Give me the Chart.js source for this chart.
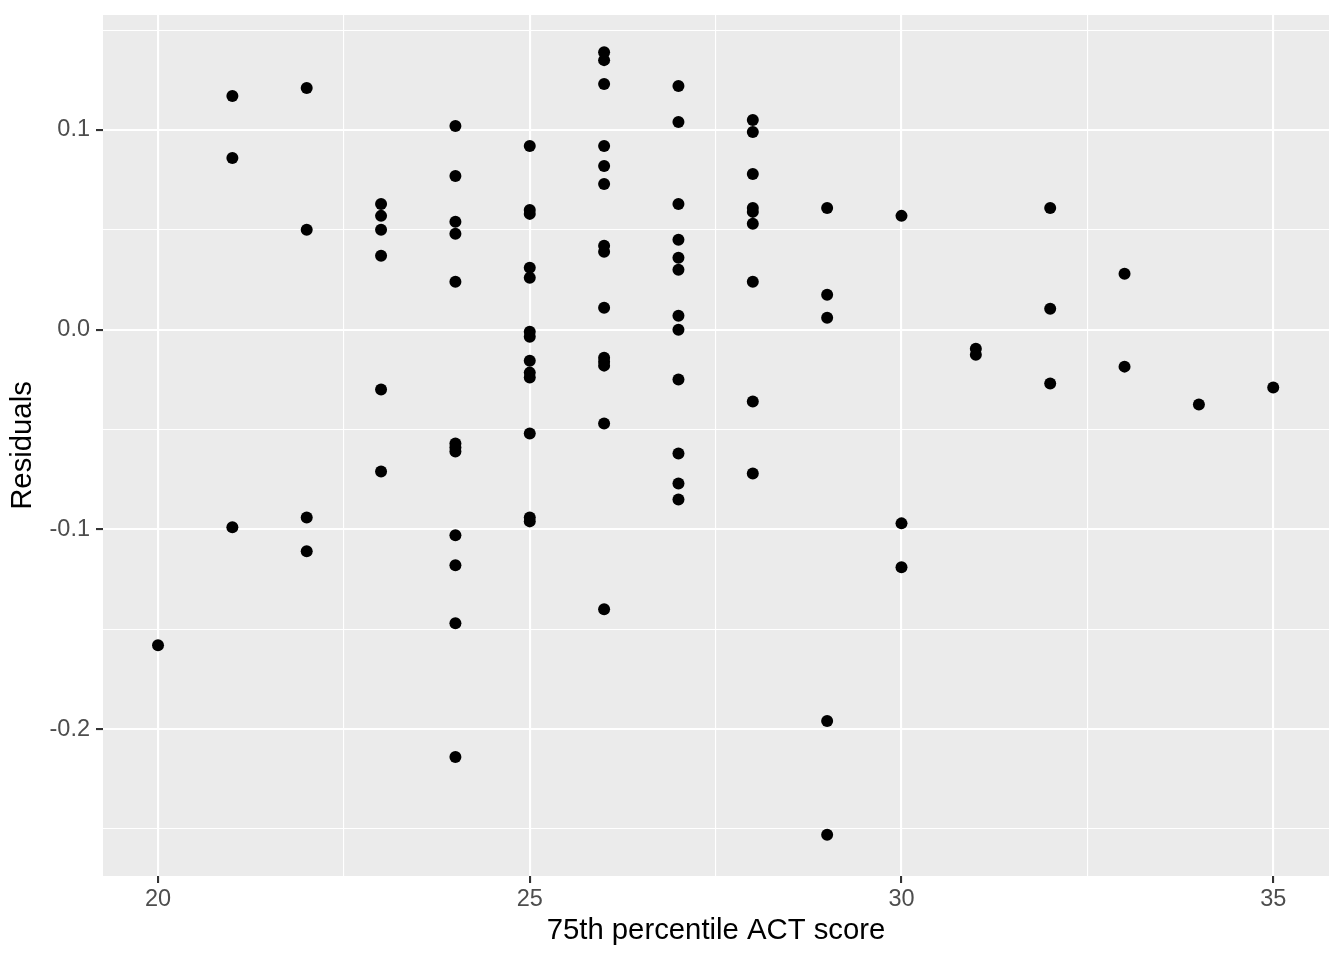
<!DOCTYPE html>
<html>
<head>
<meta charset="utf-8">
<style>
  body { margin: 0; background: #fff; }
</style>
</head>
<body>
    <canvas id="myChartRes" width="1344" height="960"></canvas>

    <script src="https://cdn.jsdelivr.net/npm/chart.js"></script>

    <script>
        // residuals, one array per ACT score
        var act = [20, 21, 22, 23, 24, 25, 26, 27, 28, 29, 30, 31, 32, 33, 34, 35]
        var residuals = [
            [-0.158],
            [0.117, 0.086, -0.099],
            [0.121, 0.050, -0.094, -0.111],
            [0.063, 0.057, 0.050, 0.037, -0.030, -0.071],
            [0.102, 0.077, 0.054, 0.048, 0.024, -0.057, -0.059, -0.061, -0.103, -0.118, -0.147, -0.214],
            [0.092, 0.060, 0.058, 0.031, 0.026, -0.001, -0.0035, -0.0155, -0.0215, -0.024, -0.052, -0.094, -0.096],
            [0.139, 0.135, 0.123, 0.092, 0.082, 0.073, 0.042, 0.039, 0.011, -0.014, -0.016, -0.018, -0.047, -0.140],
            [0.122, 0.104, 0.063, 0.045, 0.036, 0.030, 0.007, 0.000, -0.025, -0.062, -0.077, -0.085],
            [0.105, 0.099, 0.078, 0.061, 0.059, 0.053, 0.024, -0.036, -0.072],
            [0.061, 0.0175, 0.006, -0.196, -0.253],
            [0.057, -0.097, -0.119],
            [-0.0095, -0.0125],
            [0.061, 0.0105, -0.027],
            [0.028, -0.0185],
            [-0.0375],
            [-0.029]
        ]
        var xTicks = [20, 22.5, 25, 27.5, 30, 32.5, 35]
        var yTicks = [-0.25, -0.2, -0.15, -0.1, -0.05, 0, 0.05, 0.1, 0.15]

        var puntos = []
        act.forEach((x, i) => {
            residuals[i].forEach(r => puntos.push({x: x, y: r}))
        })

        const isMajorX = v => Math.abs(v % 5) < 1e-6
        const isMajorY = v => Math.abs(v * 10 - Math.round(v * 10)) < 1e-6

        const panelBg = {
            id: 'panelBg',
            beforeDraw: (chart) => {
                const {ctx, chartArea: a} = chart
                ctx.save()
                ctx.fillStyle = '#EBEBEB'
                ctx.fillRect(a.left, a.top, a.right - a.left, a.bottom - a.top)
                ctx.restore()
            }
        }

        var ctxRes = document.getElementById('myChartRes')

        var myChartRes = new Chart(ctxRes, {
            type: 'scatter',
            data: {
                datasets: [{
                    data: puntos,
                    backgroundColor: '#000',
                    borderWidth: 0,
                    pointRadius: 6,
                    pointHoverRadius: 6
                }]
            },
            options: {
                responsive: false,
                animation: false,
                events: [],
                layout: { padding: { top: 15, right: 15, left: 0, bottom: 0 } },
                plugins: { legend: { display: false }, tooltip: { enabled: false } },
                scales: {
                    x: {
                        type: 'linear',
                        min: 19.26,
                        max: 35.75,
                        afterBuildTicks: s => { s.ticks = xTicks.map(v => ({value: v})) },
                        afterFit: s => { s.height = 84; s.paddingLeft = 0; s.paddingRight = 0 },
                        border: { display: false },
                        grid: {
                            color: '#FFFFFF',
                            lineWidth: c => isMajorX(c.tick.value) ? 2.1 : 1.1,
                            tickColor: c => isMajorX(c.tick.value) ? '#333333' : 'rgba(0,0,0,0)',
                            tickWidth: 2.1,
                            tickLength: 7
                        },
                        ticks: {
                            padding: 2,
                            color: '#4D4D4D',
                            font: { family: 'Liberation Sans', size: 23.5 },
                            maxRotation: 0,
                            autoSkip: false,
                            callback: v => isMajorX(v) ? String(v) : ''
                        },
                        title: {
                            display: true,
                            text: '75th percentile ACT score',
                            color: '#000',
                            font: { family: 'Liberation Sans', size: 29.3 },
                            padding: { top: 0, bottom: 12 }
                        }
                    },
                    y: {
                        type: 'linear',
                        min: -0.2736,
                        max: 0.1576,
                        afterBuildTicks: s => { s.ticks = yTicks.map(v => ({value: v})) },
                        afterFit: s => { s.width = 103; s.paddingTop = 0; s.paddingBottom = 0 },
                        border: { display: false },
                        grid: {
                            color: '#FFFFFF',
                            lineWidth: c => isMajorY(c.tick.value) ? 2.1 : 1.1,
                            tickColor: c => isMajorY(c.tick.value) ? '#333333' : 'rgba(0,0,0,0)',
                            tickWidth: 2.1,
                            tickLength: 7
                        },
                        ticks: {
                            padding: 6,
                            color: '#4D4D4D',
                            font: { family: 'Liberation Sans', size: 23.5 },
                            autoSkip: false,
                            callback: v => isMajorY(v) ? v.toFixed(1) : ''
                        },
                        title: {
                            display: true,
                            text: 'Residuals',
                            color: '#000',
                            font: { family: 'Liberation Sans', size: 29.3 },
                            padding: { top: 5, bottom: 0 }
                        }
                    }
                }
            },
            plugins: [panelBg]
        })
    </script>
</body>
</html>
